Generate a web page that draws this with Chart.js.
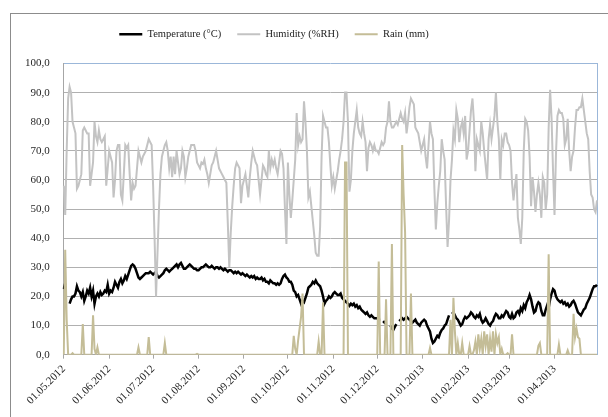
<!DOCTYPE html>
<html>
<head>
<meta charset="utf-8">
<script src="https://cdn.jsdelivr.net/npm/chart.js@4/dist/chart.umd.min.js"></script>
<style>
  html, body { margin: 0; padding: 0; background: #fff; overflow: hidden; }
  #frame { position: absolute; left: 10px; top: 13px; width: 700px; height: 500px; border: 1px solid #8c8c8c; }
  #wrap { position: absolute; left: 0; top: 0; width: 608px; height: 417px; }
</style>
</head>
<body>
<div id="frame"></div>
<div id="wrap"><canvas id="weatherChart"></canvas></div>
<script>
// daily values 01.05.2012 - 30.04.2013, one row per month
var temperature = [
  22.5,24.5,null,null,17.5,19,20,20,21,23.5,22,21.5,20,21.5,18.5,20,22,21,23,20,22,17.5,20,21,20,21.5,20.5,21,22,21.5,24,
  21,22,21.5,23,25,24,23,25,26,24.5,25.5,27,26,27.5,29,30.5,31,30.5,29.5,28,26.5,26,26.5,27,27.5,28,28,28,28.5,28,
  27.5,28,28.5,27,26.5,27,27.5,28,29,29.5,29,28.5,29,29.5,30,30.5,31,30,31,31.5,30.5,29.5,29.5,30,30.5,31,30.5,30,29.5,29.5,29,
  29,29.5,30,30,30.5,31,30.5,30,30,30.5,30,29.5,30,30,29.5,30,29.5,29,29.5,29,28.5,29,29,28.5,28,28.5,28,28.5,28,27.5,28,
  27.5,27,27.5,27,26.5,27,26.5,27,26,26.5,26,26,26.5,25.5,26,25,25,24.5,25.5,25,24.5,24.5,24,24.5,24,24.5,26,27,27.5,26.5,
  26,25,25,24,22,21.5,20,20.5,19,17.5,18.5,18,19.5,21,23,23.5,24,25,24.5,25.5,24.5,24,23.5,22,20,17.5,18.5,19,20,19.5,20,
  21,21.5,21,20.5,20.5,21,19.5,19,18.5,18,17.5,16.8,17.5,17,17.5,16.5,17,16,16.5,15.5,15,14.5,14,14.5,13.5,13,13.5,13,12.5,12.5,
  12.5,12,12,null,11.5,11,11.5,null,null,10,9,8.5,9.5,10.5,null,11.5,12,12.5,12,12.5,13,12.5,12,11.5,11,11.5,12,11,10.5,10,11,
  11.5,12,11.5,10,9,8,5.5,4,4.5,5.5,6.5,6,7.5,8.5,9,10,10.5,12,13.5,null,14,14.5,13.5,12.5,12,11,10,10.5,12,13,12.5,
  13,13.5,14.5,14,13,12.5,13.5,13,14,12,11,11.5,12.5,11.5,10.5,10,11,11.5,13,14,13.5,12.5,12.5,13.5,13,14,15,14.5,
  13,12.5,14,12.5,13,14.5,15,14,16,15,17,16,18,19,20.5,19,16.5,14.5,15,17,18,17.5,15,13.5,13.5,15.5,17,16,19,21,22.5,
  22,20,19,18.5,18,18.5,17.5,18,17,17.5,16.5,17,18,18.5,17.5,16,14.5,14,13.5,14.5,15.5,16,17.5,18.5,19.5,21,22.5,23.5,23.5,24
];

var humidity = [
  58,48,70,88,92,90,80,78,76,57,58,60,62,77,78,77,76,76,58,62,66,80,75,73,77,74,73,74,75,58,64,
  70,68,66,54,60,70,72,72,55,53,62,72,71,72,62,53,59,57,58,64,70,68,66,68,69,70,72,74,73,72,
  58,40,20,35,50,62,68,70,72,73,70,64,68,61,68,62,70,66,62,64,70,68,61,64,68,70,72,72,72,70,66,
  65,64,66,65.5,67,64,62,59,62,65,66,68,70,67,64,63,62,61,60,59,45,30,42,51,58,64,66,65,64,52,58,
  60,62,58,54,61,66,70,68,66,65,60,55,60,65,64,62,61,70,64,67,65,67,64,62,66,70,69,64,50,38,
  66,55,47,53,60,67,83,72,75,73,74,87,80,70,54,56,51,46,41,35,34,34,44,68,82,80,78,78,73,65,58,
  61,57,60,63,67,70,74,80,90,90,80,56,60,70,76,80,84,78,76,75,80,76,73,63,71,73,72,70,72,70,
  70,69,71,73,72,73,78,80,87,80,78,78,79,80,79,81,83,81,80,83,76,80,85,88,87,86,78,77,76,73,70,
  72,74,68,64,72,80,76,74,57,43,52,58,63,74,70,67,51,37,46,60,67,77,74,84,81,73,78,80,76,82,67,
  70,77,84,88,80,63,74,72,70,80,76,70,65,60,74,79,74,78,82,90,80,74,60,74,72,76,76,73,
  72,70,59,53,58,62,47,43,38,47,70,81,80,77,68,51,61,56,49,55,59,55,47,61,59,50,55,78,91,81,63,
  48,69,82,84,83,83,81,72,74,81,70,63,68,70,78,84,84,85,85,88,84,80,76,74,63,55,54,50,49,53
];

var rain = [
  0,36,12,0,0,0,0.5,0,0,0,0,0,0,10.5,0,0,0,0,0,0,13.5,2,0,2.5,0,0,0,0,0,0,0,
  0,0,0,0,0,0,0,0,0,0,0,0,0,0,0,0,0,0,0,0,2.5,0,0,0,0,0,0,6,0,0,
  0,0,0,0,0,0,0,0,4,0,0,0,0,0,0,0,0,0,0,0,0,0,0,0,0,0,0,0,0,0,0.3,
  0,0,0,0,0,0,0,0,0,0,0,0,0,0,0,0,0,0,0,0,0,0,0,0,0,0,0,0,0,0,0,
  0,0,0,0,0,0,0,0,0,0,0,0,0,0,0,0,0,0,0,0,0,0,0,0,0,0,0,0,0,0,
  0,0,0,0,6.5,2,0,5,9,13,21,0,0,0,0,0,0,0,0,0,0,4.5,0,0,18,0,0,0,0,0,0,
  0,0,0,0,0,0,0,0,66,66,0,0,0,0,0,0,0,0,0,0,0,0,0,0,0,0,0,0,0,0,
  0,32,0,0,0,0,19,0,0,0,38,0,0,0,0,0,0,72,55,42,0,0,0,21,0,0,0,0,0,0,0,
  0,0,0,0,0,2.3,0,0,0,0,0,0,0,0,0,0,0,0,0,12,0,19.5,8,0,4,0,0,4,0,0,0,
  0,3,0,0,1.5,4.5,0,7,2,5.5,0,8,3,7,0,5.5,1,8,0,7,4,6,0,2,0,0,0,0.5,
  0,0,7,0,0,0,0,0,0,0,0,0,0,0,0,0,0,0,0,0,3,4,0,0,0,0,0,34.5,0,0,0,
  0,0,0,3.5,0,0,0,0,0,1.5,0,0,0,14,6,9,6,5.5,0,0,0,0,0,0,0,0,0,0,0,0
];

var monthTicks = ['01.05.2012','01.06.2012','01.07.2012','01.08.2012','01.09.2012','01.10.2012',
  '01.11.2012','01.12.2012','01.01.2013','01.02.2013','01.03.2013','01.04.2013'];

function pad(n) { return (n < 10 ? '0' : '') + n; }

var dayLabels = [];
var start = Date.UTC(2012, 4, 1);
for (var i = 0; i < temperature.length; i++) {
    var d = new Date(start + i * 86400000);
    dayLabels.push(pad(d.getUTCDate()) + '.' + pad(d.getUTCMonth() + 1) + '.' + d.getUTCFullYear());
}

var serif = "'Liberation Serif', 'Times New Roman', serif";

// moves the legend to where it sits in the original sheet
var legendShift = {
    id: 'legendShift',
    afterLayout: function (chart) {
        var lg = chart.legend;
        var dx = 274 - (lg.left + lg.right) / 2;
        lg.left += dx;
        lg.right += dx;
        lg.top -= 14;
        lg.bottom -= 14;
    }
};

var ctx = document.getElementById('weatherChart');
var weatherChart = new Chart(ctx, {
    type: 'line',
    data: {
        labels: dayLabels,
        datasets: [
            {
                label: 'Temperature (°C)',
                data: temperature,
                borderColor: '#000000',
                backgroundColor: '#000000',
                borderWidth: 2.5,
                pointRadius: 0,
                spanGaps: false,
                order: 3
            },
            {
                label: 'Humidity (%RH)',
                data: humidity,
                borderColor: '#c3c3c3',
                backgroundColor: '#c3c3c3',
                borderWidth: 2,
                pointRadius: 0,
                order: 2
            },
            {
                label: 'Rain (mm)',
                data: rain,
                borderColor: '#c4bd97',
                backgroundColor: '#c4bd97',
                borderWidth: 2,
                pointRadius: 0,
                order: 1
            }
        ]
    },
    options: {
        responsive: true,
        maintainAspectRatio: false,
        animation: false,
        layout: { padding: { left: 11, right: 11, top: 27, bottom: 6 } },
        plugins: {
            tooltip: { enabled: false },
            legend: {
                position: 'top',
                labels: {
                    usePointStyle: true,
                    pointStyle: 'line',
                    pointStyleWidth: 23,
                    padding: 16,
                    color: '#222222',
                    font: { family: serif, size: 10.5 },
                    sort: function (a, b) { return a.datasetIndex - b.datasetIndex; }
                }
            }
        },
        scales: {
            x: {
                type: 'category',
                grid: { drawOnChartArea: false, color: '#a6a6a6', tickLength: 4 },
                border: { color: '#a6a6a6' },
                ticks: {
                    autoSkip: false,
                    minRotation: 45,
                    maxRotation: 45,
                    padding: 4,
                    color: '#262626',
                    font: { family: serif, size: 11 },
                    callback: function (value) {
                        var lbl = this.getLabelForValue(value);
                        return monthTicks.indexOf(lbl) >= 0 ? lbl : null;
                    }
                }
            },
            y: {
                min: 0,
                max: 100,
                grid: {
                    drawTicks: false,
                    color: function (c) { return c.tick && c.tick.value === 100 ? '#9bb7d9' : '#b0b0b0'; }
                },
                border: { color: '#a6a6a6' },
                ticks: {
                    stepSize: 10,
                    padding: 14,
                    color: '#262626',
                    font: { family: serif, size: 11 },
                    callback: function (v) { return v.toFixed(1).replace('.', ','); }
                }
            },
            yRight: {
                position: 'right',
                grid: { display: false, drawTicks: false },
                ticks: { display: false },
                border: { color: '#9bb7d9' }
            }
        }
    },
    plugins: [legendShift]
});
</script>
</body>
</html>
